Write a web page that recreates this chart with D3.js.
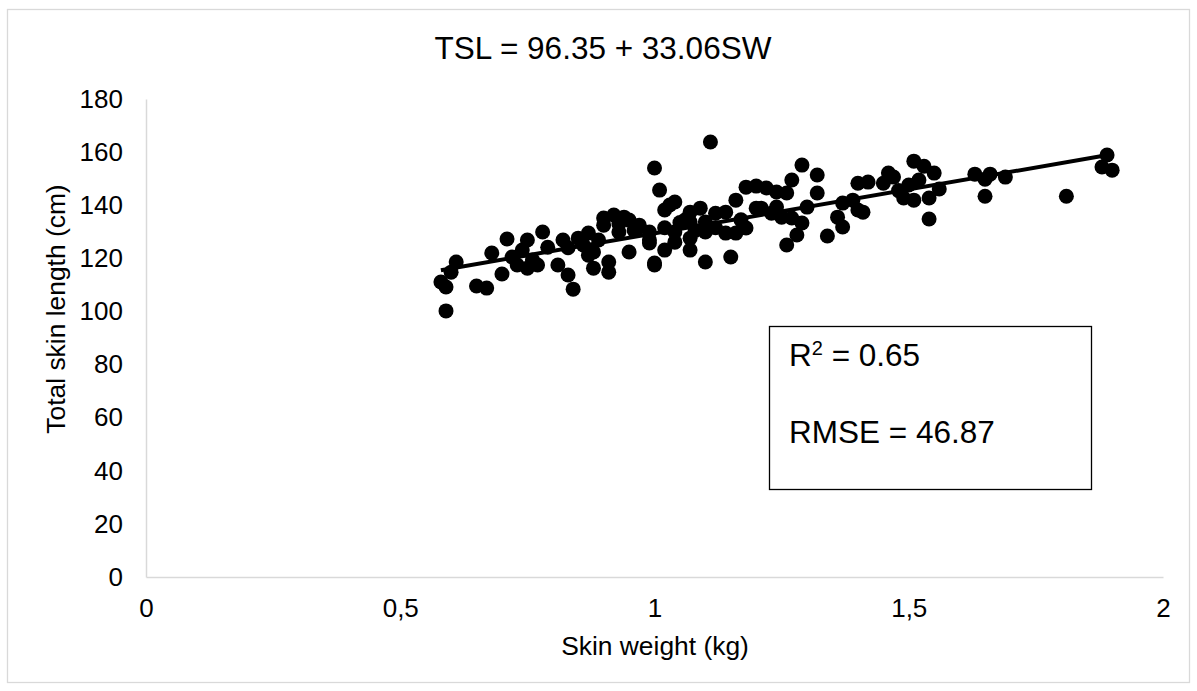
<!DOCTYPE html>
<html>
<head>
<meta charset="utf-8">
<script src="https://cdn.jsdelivr.net/npm/d3@7"></script>
<style>
  body { margin: 0; background: #fff; }
  text { font-family: "Liberation Sans", Arial, sans-serif; fill: #000; }
</style>
</head>
<body>
<div id="chart"></div>
<script>
// skin weight (kg)
var skinWeight = [0.58,0.59,0.59,0.61,0.60,0.65,0.67,0.70,0.68,0.71,0.72,0.74,0.75,0.73,0.75,0.76,0.77,0.78,0.79,0.81,
  0.82,0.83,0.84,0.85,0.87,0.87,0.88,0.88,0.91,0.91,0.90,0.92,0.90,0.94,0.95,0.97,0.93,0.95,0.99,0.99,
  1.00,1.00,1.01,1.03,1.04,1.02,0.97,0.99,1.02,1.00,1.04,1.04,1.07,1.09,1.07,1.07,1.10,1.15,1.10,1.12,
  1.14,1.14,1.16,1.18,1.16,1.18,1.20,1.22,1.24,1.21,1.23,1.24,1.11,1.06,1.07,1.26,1.27,1.29,1.32,1.32,
  1.30,1.29,1.28,1.26,1.34,1.36,1.37,1.40,1.39,1.40,1.42,1.37,1.51,1.53,1.55,1.46,1.47,1.45,1.50,1.52,
  1.56,1.49,1.51,1.54,1.54,1.63,1.66,1.65,1.69,1.65,1.81,1.89,1.88,1.90,1.25,1.27,1.20,0.89,1.41,1.10,
  0.93,0.96,1.02,1.05,1.08,1.12,1.17,0.86,0.83,1.48];
// total skin length (cm)
var skinLength = [111.1,109.2,100.2,118.6,114.8,109.6,108.8,114.1,122.0,127.3,120.5,123.1,126.9,117.5,116.3,119.4,117.5,129.9,124.2,117.5,
  126.9,113.7,108.4,127.6,129.5,121.2,122.4,116.3,114.8,118.6,135.2,136.3,132.5,135.5,134.4,131.8,129.9,122.4,126.9,129.9,
  118.2,154.0,145.7,140.1,141.2,138.2,132.5,125.8,123.1,117.5,129.9,126.1,137.4,138.9,133.7,123.1,118.6,120.5,133.7,137.0,
  137.4,129.5,129.5,131.4,141.9,146.8,147.2,146.5,145.0,138.9,137.0,139.3,163.8,134.4,127.6,144.6,149.5,155.1,151.4,144.6,
  139.3,133.3,128.8,125.0,128.4,135.5,131.8,138.2,141.9,148.3,148.7,140.8,156.6,154.7,152.1,152.1,150.6,148.3,147.6,149.5,
  146.1,142.7,141.9,142.7,134.8,151.7,151.7,149.8,150.6,143.4,143.4,158.9,154.4,153.2,135.5,135.2,138.9,126.9,137.4,129.9,
  133.0,130.5,131.5,133.5,130.5,131.5,134.5,125.0,124.0,145.5];

var xTicks = [0, 0.5, 1, 1.5, 2];
var yTicks = [0, 20, 40, 60, 80, 100, 120, 140, 160, 180];
var fitIntercept = 96.35, fitSlope = 33.06;
var titleText = "TSL = 96.35 + 33.06SW";
var r2Text = "0.65", rmseText = "46.87";

var W = 1197, H = 691;
var margin = {top: 99, right: 34, bottom: 114, left: 146};

var svg = d3.select("#chart").append("svg")
  .attr("width", W).attr("height", H);

// outer chart border
svg.append("rect")
  .attr("x", 7.5).attr("y", 9.5)
  .attr("width", 1182).attr("height", 673)
  .attr("fill", "#fff").attr("stroke", "#d9d9d9").attr("stroke-width", 1.3);

var x = d3.scaleLinear().domain([0, 2]).range([margin.left, W - margin.right]);
var y = d3.scaleLinear().domain([0, 180]).range([H - margin.bottom, margin.top]);

var commaFmt = function(d){ return String(d).replace(".", ","); };

// axes
var gx = svg.append("g")
  .attr("transform", "translate(0," + y(0) + ")")
  .call(d3.axisBottom(x).tickValues(xTicks).tickSize(0).tickPadding(22).tickFormat(commaFmt));
var gy = svg.append("g")
  .attr("transform", "translate(" + x(0) + ",0)")
  .call(d3.axisLeft(y).tickValues(yTicks).tickSize(0).tickPadding(23));

[gx, gy].forEach(function(g){
  g.select(".domain").attr("stroke", "#d9d9d9").attr("stroke-width", 1.5);
  g.selectAll("text")
    .attr("font-family", "Liberation Sans, Arial, sans-serif")
    .attr("font-size", 26).attr("fill", "#000");
});

// trend line over the data range
var xr = d3.extent(skinWeight);
svg.append("line")
  .attr("x1", x(xr[0])).attr("y1", y(fitIntercept + fitSlope * xr[0]))
  .attr("x2", x(xr[1])).attr("y2", y(fitIntercept + fitSlope * xr[1]))
  .attr("stroke", "#000").attr("stroke-width", 4);

// points
svg.append("g").selectAll("circle")
  .data(d3.range(skinWeight.length))
  .join("circle")
    .attr("cx", function(i){ return x(skinWeight[i]); })
    .attr("cy", function(i){ return y(skinLength[i]); })
    .attr("r", 7.5)
    .attr("fill", "#000");

// title
svg.append("text")
  .attr("x", 603).attr("y", 59)
  .attr("text-anchor", "middle")
  .attr("font-size", 31.5)
  .text(titleText);

// axis titles
svg.append("text")
  .attr("x", 655).attr("y", 655)
  .attr("text-anchor", "middle")
  .attr("font-size", 26.4)
  .text("Skin weight (kg)");
svg.append("text")
  .attr("transform", "translate(65,309) rotate(-90)")
  .attr("text-anchor", "middle")
  .attr("font-size", 26.4)
  .text("Total skin length (cm)");

// stats box
svg.append("rect")
  .attr("x", 769.5).attr("y", 326.5)
  .attr("width", 322).attr("height", 163)
  .attr("fill", "#fff").attr("stroke", "#000").attr("stroke-width", 1.3);

var r2 = svg.append("text")
  .attr("x", 789).attr("y", 366)
  .attr("font-size", 31.5);
r2.append("tspan").text("R");
r2.append("tspan").attr("font-size", 20).attr("dy", -11).text("2");
r2.append("tspan").attr("dy", 11).text(" = " + r2Text);

svg.append("text")
  .attr("x", 789).attr("y", 443)
  .attr("font-size", 31.5)
  .text("RMSE = " + rmseText);
</script>
</body>
</html>
